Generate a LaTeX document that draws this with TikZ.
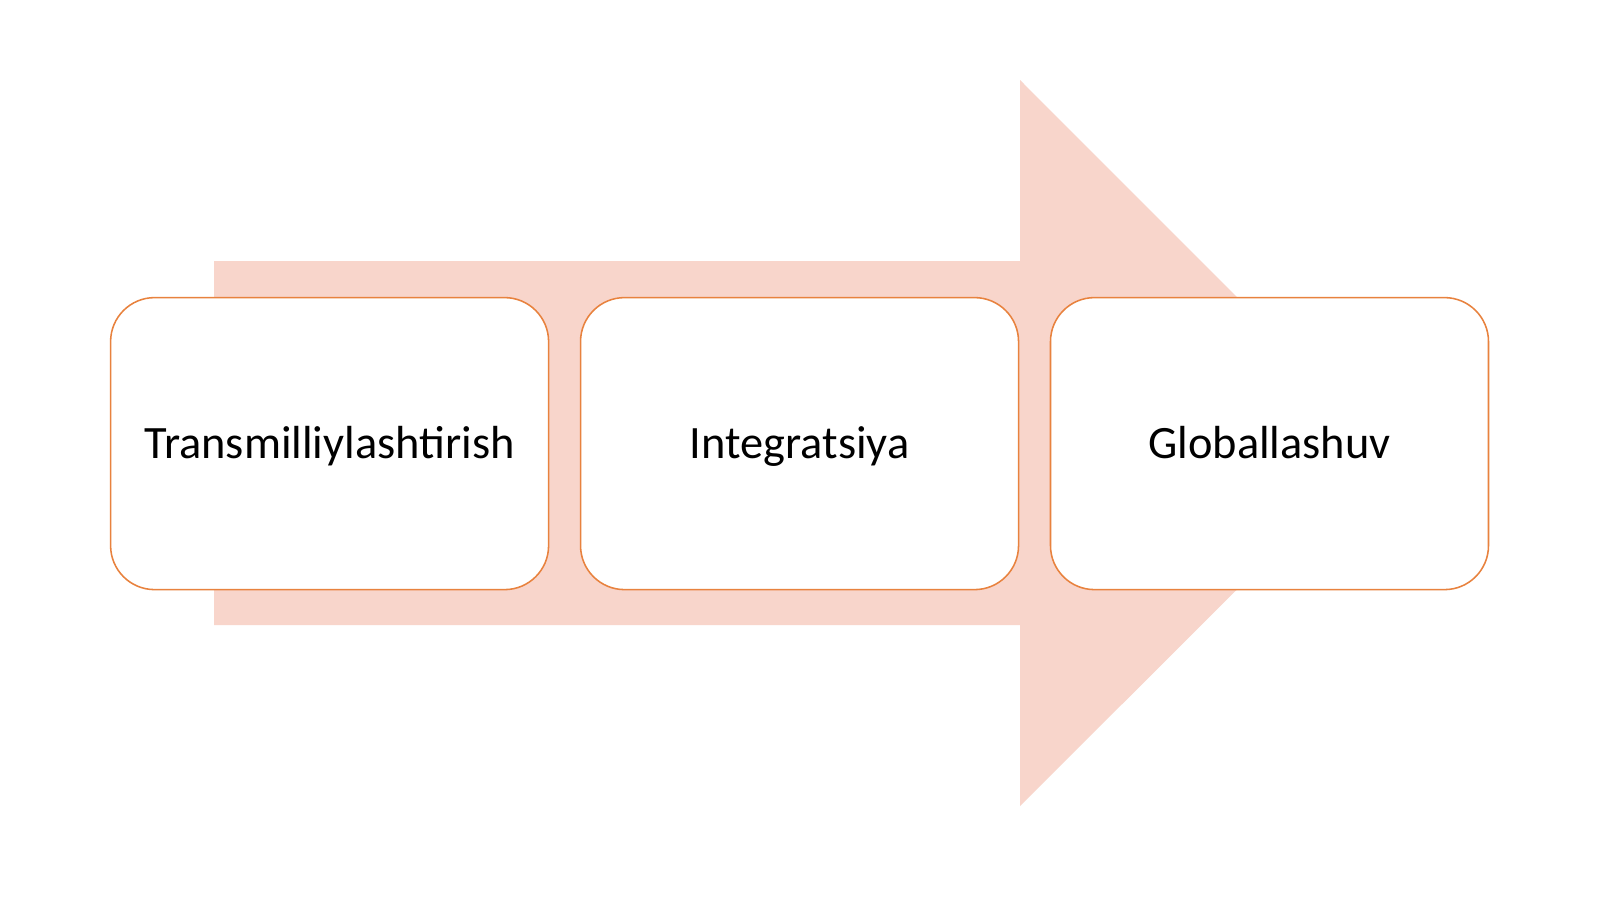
\documentclass[tikz,border=0pt]{standalone}
\usepackage{fontspec}
\setmainfont{Carlito}
\usetikzlibrary{positioning}

\definecolor{arrowpink}{HTML}{F8D5CB}
\definecolor{boxorange}{HTML}{E8823E}

\begin{document}
\begin{tikzpicture}[
      box/.style={rectangle, draw=boxorange, line width=1.1pt, minimum width=10.95cm, minimum height=7.3cm, text centered, text height=2.05em, text depth=0pt, rounded corners=1.1cm, fill=white, font=\fontsize{33}{40}\selectfont},
      node distance=0.76cm and 0.76cm
    ]

    \useasboundingbox[fill=white] (0,0) rectangle (40,-22.475);

    % Arrow
    \fill[arrowpink] (5.35,-6.525) -- (25.5,-6.525) -- (25.5,-2) -- (34.58,-11.09) -- (25.5,-20.15) -- (25.5,-15.625) -- (5.35,-15.625) -- cycle;

    % Nodes
    \node[box] (trans) at (8.24,-11.09) {Transmilliylashtirish};
    \node[box, right=of trans] (integ) {Integratsiya};
    \node[box, right=of integ] (global) {Globallashuv};

    \end{tikzpicture}
\end{document}
